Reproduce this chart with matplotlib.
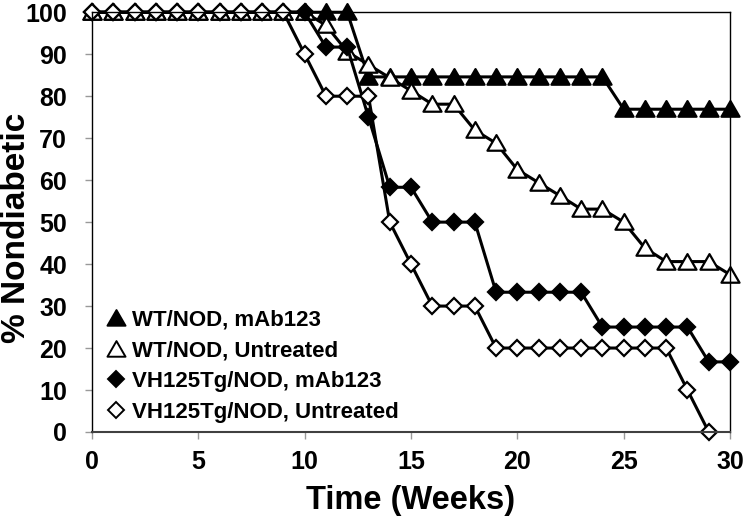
import numpy as np
import matplotlib
matplotlib.use('Agg')
import matplotlib.pyplot as plt
from matplotlib.lines import Line2D
from matplotlib.path import Path

plt.rcParams['font.family'] = ['Liberation Sans', 'DejaVu Sans']
plt.rcParams['font.weight'] = 'bold'

# weeks
weeks = list(range(0, 31))
weeks_vh_untr = list(range(0, 30))

# % nondiabetic per group
wt_mab = [100] * 13 + [84.6] * 12 + [76.9] * 6
wt_untr = [100] * 11 + [96.9, 90.6, 87.5, 84.4, 81.3, 78.1, 78.1, 71.9, 68.8, 62.5,
                        59.4, 56.3, 53.1, 53.1, 50.0, 43.8, 40.6, 40.6, 40.6, 37.5]
vh_mab = [100] * 11 + [91.7, 91.7, 75.0, 58.3, 58.3, 50, 50, 50, 33.3, 33.3, 33.3,
                       33.3, 33.3, 25, 25, 25, 25, 25, 16.7, 16.7]
vh_untr = [100] * 10 + [90, 80, 80, 80, 50, 40, 30, 30, 30, 20, 20, 20, 20, 20,
                        20, 20, 20, 20, 10, 0]

labels = ['WT/NOD, mAb123', 'WT/NOD, Untreated',
          'VH125Tg/NOD, mAb123', 'VH125Tg/NOD, Untreated']

# equilateral triangle centred on the point
tri = Path([(-1, -0.8), (1, -0.8), (0, 0.93), (-1, -0.8)],
           [Path.MOVETO, Path.LINETO, Path.LINETO, Path.CLOSEPOLY])

fig = plt.figure(figsize=(7.44, 5.24), dpi=100)
ax = fig.add_axes([0.1237, 0.1756, 0.8575, 0.801])

styles = [
    (weeks, wt_mab, tri, 'black', 13),
    (weeks, wt_untr, tri, 'white', 13),
    (weeks, vh_mab, 'D', 'black', 8.5),
    (weeks_vh_untr, vh_untr, 'D', 'white', 8.5),
]
handles = []
for (x, y, m, fc, ms), lab in zip(styles, labels):
    ax.plot(x, y, color='black', lw=2.2, marker=m, markersize=ms,
            markerfacecolor=fc, markeredgecolor='black', markeredgewidth=1.6,
            clip_on=False)
    handles.append(Line2D([], [], linestyle='None', marker=m, markersize=ms,
                          markerfacecolor=fc, markeredgecolor='black',
                          markeredgewidth=1.4))

ax.set_xlim(0, 30)
ax.set_ylim(0, 100)
ax.set_xticks(range(0, 31, 5))
ax.set_yticks(range(0, 101, 10))
ax.tick_params(axis='both', direction='out', length=5, width=1, color='#999999',
               labelsize=18)
ax.tick_params(axis='y', pad=13)
ax.tick_params(axis='x', pad=8)
for s in ax.spines.values():
    s.set_linewidth(1.0)
    s.set_color('black')
ax.spines['bottom'].set_color('#404040')
ax.spines['bottom'].set_linewidth(1.5)

ax.set_xlabel('Time (Weeks)', fontsize=23.5, fontweight='bold')
ax.set_ylabel('% Nondiabetic', fontsize=24, fontweight='bold')
ax.xaxis.set_label_coords(0.499, -0.127)
ax.yaxis.set_label_coords(-0.094, 0.486)

ax.legend(handles, labels, loc='lower left', bbox_to_anchor=(0.02, 0.0225),
          frameon=False, handlelength=1.0, handletextpad=0.22,
          labelspacing=0.43, borderpad=0, borderaxespad=0,
          prop={'weight': 'bold', 'size': 16})

fig.savefig('out.png', dpi=100)
